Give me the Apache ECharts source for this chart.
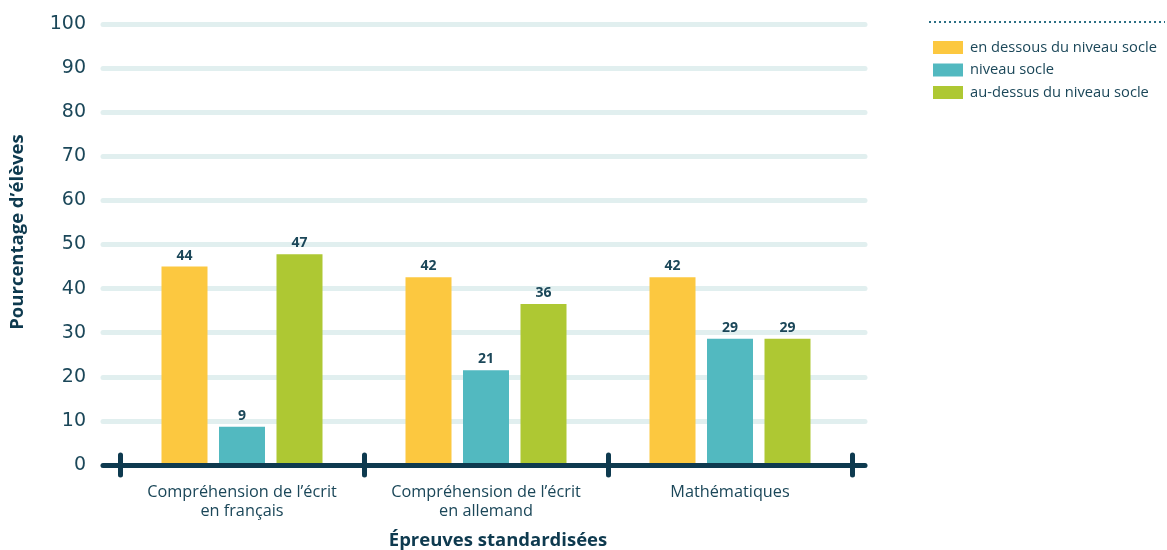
<!DOCTYPE html>
<html>
<head>
<meta charset="utf-8">
<script src="https://cdn.jsdelivr.net/npm/echarts@6/dist/echarts.min.js"></script>
<style>html,body{margin:0;padding:0;background:#fff}#c{width:1167px;height:550px}</style>
</head>
<body>
<div id="c"></div>
<script>
const categories = ['Compréhension de l’écrit\nen français', 'Compréhension de l’écrit\nen allemand', 'Mathématiques'];
const seriesNames = ['en dessous du niveau socle', 'niveau socle', 'au-dessus du niveau socle'];
// bar heights
const belowHeights = [45.0, 42.6, 42.6];
const socleHeights = [8.7, 21.5, 28.6];
const aboveHeights = [47.8, 36.5, 28.6];
// values printed above bars
const belowLabels = [44, 42, 42];
const socleLabels = [9, 21, 29];
const aboveLabels = [47, 36, 29];
const yTicks = [0, 10, 20, 30, 40, 50, 60, 70, 80, 90, 100];
const yTitle = 'Pourcentage d’élèves';
const xTitle = 'Épreuves standardisées';

const colors = ['#fcc840', '#52b9c0', '#aec833'];
const dark = '#0e3a4f';
const textCol = '#1b4759';
const FONT = '"Open Sans", Lato, sans-serif';

const chart = echarts.init(document.getElementById('c'));

function mk(name, heights, labels, color) {
  return {
    name: name, type: 'bar', xAxisIndex: 1, yAxisIndex: 1,
    barWidth: 46, barGap: '25%',
    itemStyle: { color: color },
    data: heights.map((v, i) => ({ value: v, label: { formatter: String(labels[i]) } })),
    label: { show: true, position: 'top', distance: 4, color: textCol, fontFamily: FONT, fontWeight: 'bold', fontSize: 14 },
    z: 3
  };
}

chart.setOption({
  animation: false,
  color: colors,
  grid: [
    { left: 103, width: 762, top: 24, bottom: 85 },
    { left: 120, width: 732, top: 24, bottom: 85 }
  ],
  title: {
    text: xTitle, left: 493, top: 526, textAlign: 'center',
    textStyle: { color: dark, fontFamily: FONT, fontWeight: 'bold', fontSize: 18.5 }
  },
  legend: {
    orient: 'vertical', left: 928, top: 35, itemWidth: 30, itemHeight: 13, itemGap: 7.5,
    icon: 'rect',
    textStyle: { color: textCol, fontFamily: FONT, fontSize: 14.7, padding: [0, 0, 0, 2] },
    data: seriesNames
  },
  graphic: [{
    type: 'line', shape: { x1: 929, y1: 22, x2: 1165, y2: 22 },
    style: { stroke: '#2b6e84', lineWidth: 2, lineDash: [2, 3] }
  }, {
    type: 'text', x: 18, y: 232, rotation: Math.PI / 2,
    style: { text: yTitle, fill: dark, font: 'bold 18.5px "Open Sans", sans-serif', align: 'center', verticalAlign: 'middle' }
  }],
  xAxis: [
    { gridIndex: 0, type: 'category', data: categories, position: 'bottom',
      axisLine: { show: true, lineStyle: { color: dark, width: 5, cap: 'round' } },
      axisTick: { show: false }, axisLabel: { show: false }, z: 4 },
    { gridIndex: 1, type: 'category', data: categories, position: 'bottom',
      axisLine: { show: false }, axisTick: { show: false },
      axisLabel: { color: textCol, fontFamily: FONT, fontSize: 16.3, lineHeight: 19, margin: 18, interval: 0 } },
    { gridIndex: 1, type: 'category', data: categories, position: 'bottom', offset: -10,
      axisLine: { show: false }, axisLabel: { show: false },
      axisTick: { show: true, length: 20, lineStyle: { color: dark, width: 5, cap: 'round' } }, z: 5 }
  ],
  yAxis: [
    { gridIndex: 0, type: 'value', min: 0, max: 100, interval: 10,
      axisLine: { show: false }, axisTick: { show: false },
      axisLabel: { color: textCol, fontFamily: '"DejaVu Sans", sans-serif', fontSize: 19, margin: 17 },
      splitLine: { show: true, lineStyle: { color: '#e1efef', width: 5, cap: 'round' } } },
    { gridIndex: 1, type: 'value', min: 0, max: 100, interval: 10, show: false, splitLine: { show: false } }
  ],
  series: [
    mk(seriesNames[0], belowHeights, belowLabels, colors[0]),
    mk(seriesNames[1], socleHeights, socleLabels, colors[1]),
    mk(seriesNames[2], aboveHeights, aboveLabels, colors[2])
  ]
});
</script>
</body>
</html>
